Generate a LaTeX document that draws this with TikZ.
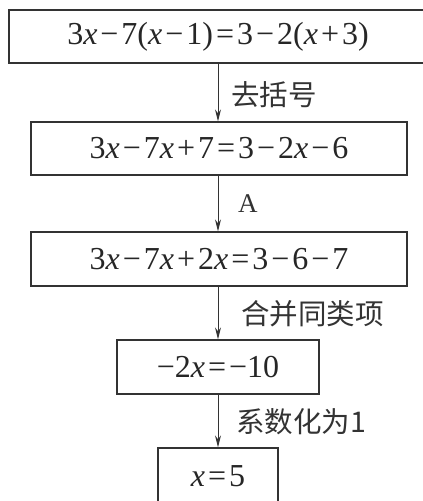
\documentclass[tikz,border=0pt]{standalone}
\usepackage{fontspec}
\setmainfont{Liberation Serif}
\newfontfamily\cjk{Noto Sans CJK SC}
\usetikzlibrary{arrows.meta}
\newcommand{\vx}{\textit{x}}
\newcommand{\op}[1]{\hspace{3pt}#1\hspace{3pt}}
\newcommand{\mi}{\op{−}}
\newcommand{\pl}{\op{+}}
\newcommand{\eqs}{\op{=}}
\begin{document}
\begin{tikzpicture}[x=1pt,y=-1pt,
  eqbox/.style={draw=black!80, line width=1.2pt, inner sep=0pt, text=black!85,
    font=\fontsize{32}{35}\selectfont},
  arr/.style={draw=black!80, line width=1pt, -{Stealth[length=12pt,width=6pt]}},
  lbl/.style={anchor=west, inner sep=0pt, text=black!80, font=\cjk\fontsize{28.5}{32}\selectfont}]
\useasboundingbox (0,0) rectangle (423,501);
\node[eqbox, minimum width=418pt, minimum height=53pt] (b1) at (218,36.5) {3\vx\mi7(\vx\mi1)\eqs3\mi2(\vx\pl3)};
\node[eqbox, minimum width=376pt, minimum height=53pt] (b2) at (219,148.5) {3\vx\mi7\vx\pl7\eqs3\mi2\vx\mi6};
\node[eqbox, minimum width=376pt, minimum height=54pt] (b3) at (219,259) {3\vx\mi7\vx\pl2\vx\eqs3\mi6\mi7};
\node[eqbox, minimum width=202pt, minimum height=54pt] (b4) at (218,367) {−2\vx\eqs−10};
\node[eqbox, minimum width=120pt, minimum height=56pt] (b5) at (218,476) {\vx\eqs5};
\draw[arr] (b1.south) -- (b2.north -| b1.south);
\draw[arr] (b2.south -| b1.south) -- (b3.north -| b1.south);
\draw[arr] (b3.south -| b1.south) -- (b4.north -| b1.south);
\draw[arr] (b4.south -| b1.south) -- (b5.north -| b1.south);
\node[lbl] (l1) at (231,95) {去括号};
\node[lbl, font=\fontsize{27}{30}\selectfont] (l2) at (238,204) {A};
\node[lbl] (l3) at (241,314) {合并同类项};
\node[lbl] (l4) at (236,422) {系数化为1};
\end{tikzpicture}
\end{document}
